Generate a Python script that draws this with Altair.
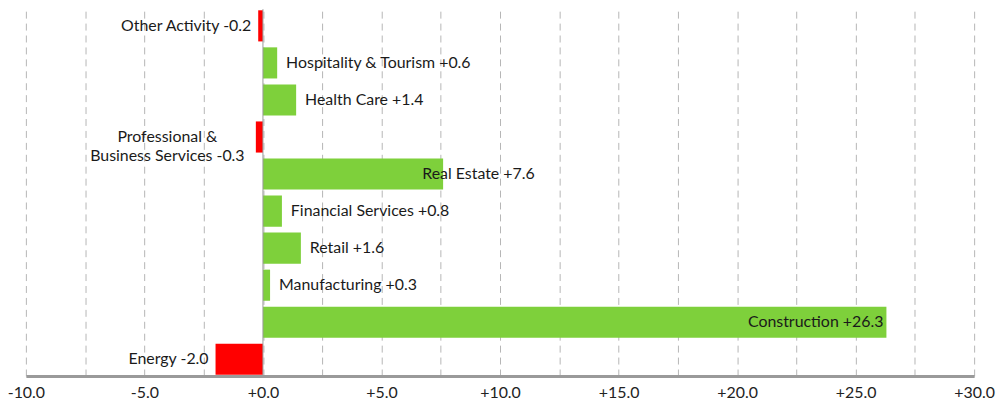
import altair as alt
import pandas as pd

categories = ["Other Activity", "Hospitality & Tourism", "Health Care",
              "Professional &\nBusiness Services", "Real Estate", "Financial Services",
              "Retail", "Manufacturing", "Construction", "Energy"]
values = [-0.2, 0.6, 1.4, -0.3, 7.6, 0.8, 1.6, 0.3, 26.3, -2.0]
tick_values = [-10, -7.5, -5, -2.5, 0, 2.5, 5, 7.5, 10, 12.5, 15, 17.5, 20, 22.5, 25, 27.5, 30]

def fmt(v):
    return ("+" if v >= 0 else "-") + f"{abs(v):.1f}"

df = pd.DataFrame({
    "cat": categories,
    "value": values,
    "label": [f"{c} {fmt(v)}" for c, v in zip(categories, values)],
    "multi": ["\n" in c for c in categories],
})

GREEN = "#7ED03B"
RED = "#FF0000"
FONT = "Lato"
FS = 16

x_enc = alt.X("value:Q",
              scale=alt.Scale(domain=[-10, 30], nice=False, zero=False),
              axis=alt.Axis(values=tick_values, title=None, ticks=False,
                            labelExpr="datum.value % 5 == 0 ? (datum.value < 0 ? '-' + format(-datum.value, '.1f') : '+' + format(datum.value, '.1f')) : ''",
                            labelFont=FONT, labelFontSize=FS, labelColor="#222222",
                            labelPadding=9, domainColor="#9a9a9a", domainWidth=3,
                            grid=True, gridColor="#b5b5b5", gridDash=[7, 5], gridWidth=1,
                            labelOverlap=False, labelFlush=False))
y_enc = alt.Y("cat:N", sort=categories,
              scale=alt.Scale(paddingInner=0.16, paddingOuter=0.03), axis=None)

base = alt.Chart(df)

bars = base.mark_bar().encode(
    x=x_enc,
    x2=alt.datum(0),
    y=y_enc,
    color=alt.condition("datum.value > 0", alt.value(GREEN), alt.value(RED)),
)

zero = alt.Chart(pd.DataFrame({"z": [0]})).mark_rule(color="#9a9a9a", strokeWidth=1).encode(
    x=alt.X("z:Q"))

text_kw = dict(font=FONT, fontSize=FS, color="#1a1a1a", baseline="middle", lineBreak="\n", lineHeight=19)

pos_small = base.transform_filter("datum.value > 0 && datum.value < 5").mark_text(
    align="left", dx=9, **text_kw).encode(x="value:Q", y=y_enc, text="label:N")
pos_mid = base.transform_filter("datum.value >= 5 && datum.value < 20").mark_text(
    align="left", dx=-21, **text_kw).encode(x="value:Q", y=y_enc, text="label:N")
pos_big = base.transform_filter("datum.value >= 20").mark_text(
    align="right", dx=-3, **text_kw).encode(x="value:Q", y=y_enc, text="label:N")
neg = base.transform_filter("datum.value < 0 && !datum.multi").mark_text(
    align="right", dx=-7, **text_kw).encode(x="value:Q", y=y_enc, text="label:N")
neg_multi = base.transform_filter("datum.value < 0 && datum.multi").mark_text(
    align="center", dx=-89, **text_kw).encode(x="value:Q", y=y_enc, text="label:N")

chart = alt.layer(bars, zero, pos_small, pos_mid, pos_big, neg, neg_multi).properties(
    width=954, height=369,
    autosize=alt.AutoSizeParams(type="none"),
    padding={"left": 18, "top": 0, "right": 22, "bottom": 25},
).configure_view(stroke=None)

chart.save("out.html", embed_options={"renderer": "svg", "actions": False})
